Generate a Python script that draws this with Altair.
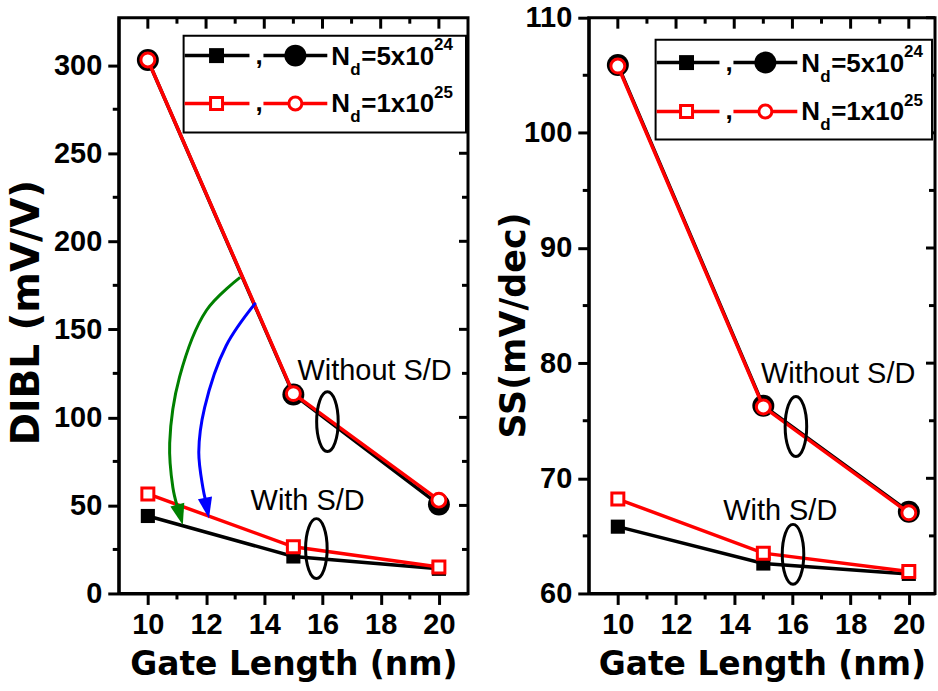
import altair as alt
import pandas as pd

# ---------------- data ----------------
gate_length = [10, 15, 20]

dibl_black_sq = [44, 21, 14]
dibl_red_sq = [56.5, 26.5, 15]
dibl_black_ci = [303, 113, 50.5]
dibl_red_ci = [303, 113.5, 53]

ss_black_sq = [65.8, 62.6, 61.7]
ss_red_sq = [68.2, 63.5, 61.9]
ss_black_ci = [105.9, 76.3, 67.1]
ss_red_ci = [105.8, 76.2, 67.0]

x_major = [10, 12, 14, 16, 18, 20]
x_minor = [11, 13, 15, 17, 19]
dibl_major = [0, 50, 100, 150, 200, 250, 300]
dibl_minor = [25, 75, 125, 175, 225, 275]
ss_major = [60, 70, 80, 90, 100, 110]
ss_minor = [65, 75, 85, 95, 105]

legend_mantissa = ["=5x10", "=1x10"]
legend_exponent = ["24", "25"]

annot_text = ["Without S/D", "With S/D"]
dibl_annot_x = [15.14, 13.53]
dibl_annot_y = [121.4, 47.6]
ss_annot_x = [14.92, 13.62]
ss_annot_y = [78.3, 66.4]

dibl_ellipse_x = [16.17, 15.79]
dibl_ellipse_y = [97.6, 25.5]
ss_ellipse_x = [16.12, 16.02]
ss_ellipse_y = [74.5, 63.4]

green_arrow_x = [13.17, 12.01, 11.09, 10.75, 10.86, 11.0]
green_arrow_y = [179.5, 160.7, 123.0, 85.4, 60.2, 50.0]
blue_arrow_x = [13.70, 12.69, 11.95, 11.75, 11.89, 11.98]
blue_arrow_y = [165.0, 140.7, 105.5, 80.3, 60.2, 53.0]
arrow_tip_x = [11.2, 12.1]
arrow_tip_y = [38.9, 42.6]

# ---------------- styles ----------------
BLACK = "#000000"
RED = "#ff0000"
GREEN = "#008000"
BLUE = "#0000ff"
LABEL_FONT = "Liberation Sans"
TITLE_FONT = "DejaVu Sans"

K = 0.5523
A = 0.36
ELLIPSE = (f"M0,-1 C{K*A:.4f},-1 {A},{-K} {A},0 C{A},{K} {K*A:.4f},1 0,1 "
           f"C{-K*A:.4f},1 {-A},{K} {-A},0 C{-A},{-K} {-K*A:.4f},-1 0,-1 Z")
ARROW = "M0,0 L-0.6,-1.75 L0.6,-1.75 Z"


def df_xy(xs, ys):
    return pd.DataFrame({"x": xs, "y": ys, "o": list(range(len(xs)))})


def build_panel(W, H, xdom, ydom, ymaj, ymin, ytitle, ytitle_size, ytitle_x, ytitle_y,
                sq_black, sq_red, ci_black, ci_red, ax, ay, ex, ey,
                legend_rows, legend_box, with_arrows):
    xs = alt.Scale(domain=xdom, nice=False, zero=False)
    ys = alt.Scale(domain=ydom, nice=False, zero=False)
    xax = alt.Axis(values=x_major, tickSize=11, labelPadding=6, format="d",
                   title="Gate Length (nm)", titleFontSize=33, titlePadding=9)
    yax = alt.Axis(values=ymaj, tickSize=11, labelPadding=6, format="d",
                   title=ytitle, titleFontSize=ytitle_size,
                   titleX=ytitle_x, titleY=ytitle_y, titleAlign="center",
                   titleBaseline="bottom")
    X0 = alt.X("x:Q", scale=xs, axis=xax)
    Y0 = alt.Y("y:Q", scale=ys, axis=yax)

    layers = []
    d = df_xy(gate_length, sq_black)
    layers.append(alt.Chart(d).mark_line(color=BLACK, strokeWidth=3.5).encode(
        x=X0, y=Y0, order="o:O"))
    layers.append(alt.Chart(d).mark_point(shape="square", filled=True, color=BLACK,
                                          size=200, opacity=1).encode(x=X0, y=Y0))
    d = df_xy(gate_length, sq_red)
    layers.append(alt.Chart(d).mark_line(color=RED, strokeWidth=3.5).encode(x=X0, y=Y0, order="o:O"))
    layers.append(alt.Chart(d).mark_point(shape="square", filled=True, fill="white", stroke=RED,
                                          strokeWidth=3, size=144, opacity=1).encode(x=X0, y=Y0))
    d = df_xy(gate_length, ci_black)
    layers.append(alt.Chart(d).mark_line(color=BLACK, strokeWidth=3.5).encode(x=X0, y=Y0, order="o:O"))
    layers.append(alt.Chart(d).mark_point(shape="circle", filled=True, color=BLACK,
                                          size=484, opacity=1).encode(x=X0, y=Y0))
    d = df_xy(gate_length, ci_red)
    layers.append(alt.Chart(d).mark_line(color=RED, strokeWidth=3.5).encode(x=X0, y=Y0, order="o:O"))
    layers.append(alt.Chart(d).mark_point(shape="circle", filled=True, fill="white", stroke=RED,
                                          strokeWidth=3, size=196, opacity=1).encode(x=X0, y=Y0))

    if with_arrows:
        for xsr, ysr, col, tip, ang in [(green_arrow_x, green_arrow_y, GREEN, 0, 345),
                                        (blue_arrow_x, blue_arrow_y, BLUE, 1, 349)]:
            d = df_xy(xsr, ysr)
            layers.append(alt.Chart(d).mark_line(color=col, strokeWidth=3,
                                                 interpolate="catmull-rom").encode(x=X0, y=Y0, order="o:O"))
            dt = df_xy([arrow_tip_x[tip]], [arrow_tip_y[tip]])
            layers.append(alt.Chart(dt).mark_point(shape=ARROW, filled=True, color=col, size=576,
                                                   opacity=1, angle=ang).encode(x=X0, y=Y0))

    dann = pd.DataFrame({"x": ax, "y": ay, "t": annot_text})
    layers.append(alt.Chart(dann).mark_text(font=LABEL_FONT, fontSize=29, align="left",
                                            baseline="alphabetic", color=BLACK).encode(
        x=X0, y=Y0, text="t:N"))
    dell = df_xy(ex, ey)
    layers.append(alt.Chart(dell).mark_point(shape=ELLIPSE, filled=False, stroke=BLACK,
                                             strokeWidth=3, size=3600, opacity=1).encode(x=X0, y=Y0))

    # frame ticks (Origin style: outward minor on left/bottom, inward on top/right)
    tk = lambda vals: pd.DataFrame({"x": vals, "y": vals})
    layers.append(alt.Chart(tk(x_minor)).mark_rule(color=BLACK, strokeWidth=3).encode(
        x=X0, y=alt.value(H), y2=alt.value(H + 6)))
    layers.append(alt.Chart(tk(x_major)).mark_rule(color=BLACK, strokeWidth=3).encode(
        x=X0, y=alt.value(0), y2=alt.value(11)))
    layers.append(alt.Chart(tk(x_minor)).mark_rule(color=BLACK, strokeWidth=3).encode(
        x=X0, y=alt.value(0), y2=alt.value(6)))
    layers.append(alt.Chart(tk(ymin)).mark_rule(color=BLACK, strokeWidth=3).encode(
        y=Y0, x=alt.value(-6), x2=alt.value(0)))
    layers.append(alt.Chart(tk(ymaj)).mark_rule(color=BLACK, strokeWidth=3).encode(
        y=Y0, x=alt.value(W - 9), x2=alt.value(W)))
    layers.append(alt.Chart(tk(ymin)).mark_rule(color=BLACK, strokeWidth=3).encode(
        y=Y0, x=alt.value(W - 6), x2=alt.value(W)))

    # legend
    bx0, by0, bx1, by1 = legend_box
    one = pd.DataFrame({"k": [0]})
    layers.append(alt.Chart(one).mark_rect(fill="white", stroke=BLACK, strokeWidth=2).encode(
        x=alt.value(bx0), x2=alt.value(bx1), y=alt.value(by0), y2=alt.value(by1)))
    for i, (ry, col) in enumerate(zip(legend_rows, [BLACK, RED])):
        row = pd.DataFrame({"m": [legend_mantissa[i]], "e": [legend_exponent[i]]})
        for lx0, lx1 in [(bx0 + 1, 131), (145, 209)]:
            layers.append(alt.Chart(row).mark_rule(color=col, strokeWidth=3.5).encode(
                x=alt.value(lx0), x2=alt.value(lx1), y=alt.value(ry)))
        if i == 0:
            layers.append(alt.Chart(row).mark_point(shape="square", filled=True, color=BLACK,
                                                    size=225, opacity=1).encode(
                x=alt.value(98), y=alt.value(ry)))
            layers.append(alt.Chart(row).mark_point(shape="circle", filled=True, color=BLACK,
                                                    size=484, opacity=1).encode(
                x=alt.value(177), y=alt.value(ry)))
        else:
            layers.append(alt.Chart(row).mark_point(shape="square", filled=True, fill="white",
                                                    stroke=RED, strokeWidth=3, size=144,
                                                    opacity=1).encode(
                x=alt.value(98), y=alt.value(ry)))
            layers.append(alt.Chart(row).mark_point(shape="circle", filled=True, fill="white",
                                                    stroke=RED, strokeWidth=3, size=169,
                                                    opacity=1).encode(
                x=alt.value(177), y=alt.value(ry)))
        tstyle = dict(font=LABEL_FONT, fontWeight="bold", color=BLACK, baseline="alphabetic",
                      align="left")
        layers.append(alt.Chart(row).mark_text(text=",", fontSize=26, **tstyle).encode(
            x=alt.value(137), y=alt.value(ry + 8)))
        layers.append(alt.Chart(row).mark_text(text="N", fontSize=26, **tstyle).encode(
            x=alt.value(213), y=alt.value(ry + 9)))
        layers.append(alt.Chart(row).mark_text(text="d", fontSize=17, **tstyle).encode(
            x=alt.value(232), y=alt.value(ry + 19)))
        layers.append(alt.Chart(row).mark_text(fontSize=26, **tstyle).encode(
            x=alt.value(243), y=alt.value(ry + 9), text="m:N"))
        layers.append(alt.Chart(row).mark_text(fontSize=17, **tstyle).encode(
            x=alt.value(316), y=alt.value(ry - 6), text="e:N"))

    return alt.layer(*layers).properties(width=W, height=H)


left = build_panel(350, 577, [9, 21], [0, 327], dibl_major, dibl_minor,
                   "DIBL (mV/V)", 39, -72, 295,
                   dibl_black_sq, dibl_red_sq, dibl_black_ci, dibl_red_ci,
                   dibl_annot_x, dibl_annot_y, dibl_ellipse_x, dibl_ellipse_y,
                   [38, 86], (65, 18, 348, 115), True)

right = build_panel(347, 577, [9, 20.9], [60, 110], ss_major, ss_minor,
                    "SS(mV/dec)", 35, -57, 308,
                    ss_black_sq, ss_red_sq, ss_black_ci, ss_red_ci,
                    ss_annot_x, ss_annot_y, ss_ellipse_x, ss_ellipse_y,
                    [45, 94], (67, 22, 344, 122), False)

chart = alt.hconcat(left, right, spacing=121, bounds="flush").properties(
    padding={"left": 6, "top": 1, "right": 0, "bottom": 0},
    background="white",
).configure_view(
    stroke=BLACK, strokeWidth=3
).configure_axis(
    domainColor=BLACK, domainWidth=3, tickColor=BLACK, tickWidth=3,
    labelColor=BLACK, labelFont=LABEL_FONT, labelFontSize=29, labelFontWeight="bold",
    labelFlush=False, labelOverlap=False,
    titleColor=BLACK, titleFont=TITLE_FONT, titleFontWeight="bold", grid=False,
)

chart.save("out.html", embed_options={"renderer": "svg", "actions": False})
